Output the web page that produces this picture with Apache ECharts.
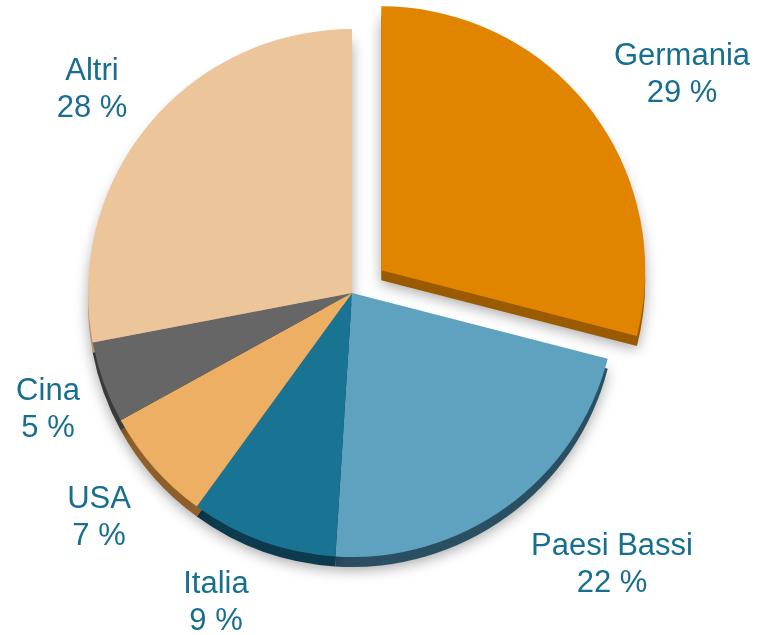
<!DOCTYPE html>
<html>
<head>
<meta charset="utf-8">
<script src="https://cdn.jsdelivr.net/npm/echarts@6/dist/echarts.min.js"></script>
<style>
html,body{margin:0;padding:0;background:#fff;}
#chart{width:760px;height:635px;}
</style>
</head>
<body>
<div id="chart"></div>
<script>
// ---- data ----
const categories = ['Germania', 'Paesi Bassi', 'Italia', 'USA', 'Cina', 'Altri'];
const shares = [29, 22, 9, 7, 5, 28];
const explodedCategory = 'Germania';

// ---- styles (separate from data) ----
const topColors = ['#E18500', '#5EA2BF', '#197493', '#EDAF64', '#666666', '#EDC59B'];
const sideColors = ['#995A00', '#2A4F63', '#0D3A4C', '#8E5F2A', '#3A3A3A', '#B8936B'];
const labelAnchors = [[682, 75], [612, 565], [216, 603], [99, 518], [48, 410], [92, 90]];

const CX = 352, CY = 293, R = 264, DEPTH = 10, OFFSET = 37;

// direction in which the highlighted slice is pulled out (its mid angle, clockwise from 12 o'clock)
const explodedIndex = categories.indexOf(explodedCategory);
const total = shares.reduce((s, v) => s + v, 0);
const before = shares.slice(0, explodedIndex).reduce((s, v) => s + v, 0);
const midAngle = (before + shares[explodedIndex] / 2) / total * 2 * Math.PI;
const EX = OFFSET * Math.sin(midAngle), EY = -OFFSET * Math.cos(midAngle);

const chart = echarts.init(document.getElementById('chart'), null, {renderer: 'canvas'});

// onlyExploded: true -> only the pulled-out slice visible; false -> all but it
function buildData(colors, onlyExploded) {
  return categories.map((name, i) => {
    const visible = (i === explodedIndex) === onlyExploded;
    return {
      name: name,
      value: shares[i],
      itemStyle: visible ? {color: colors[i]} : {color: 'rgba(0,0,0,0)', shadowBlur: 0, shadowColor: 'rgba(0,0,0,0)'},
      label: {show: visible}
    };
  });
}

function pieLayer(colors, onlyExploded, isSide) {
  const ox = onlyExploded ? EX : 0, oy = onlyExploded ? EY : 0;
  const s = {
    type: 'pie',
    silent: true,
    center: [CX + ox, CY + oy + (isSide ? DEPTH : 0)],
    radius: R,
    startAngle: 90,
    clockwise: true,
    avoidLabelOverlap: false,
    emphasis: {disabled: true},
    labelLine: {show: false},
    data: buildData(colors, onlyExploded)
  };
  if (isSide) {
    s.label = {show: false};
    s.data.forEach(d => { d.label = {show: false}; });
    s.itemStyle = {borderWidth: 0, shadowBlur: 14, shadowColor: 'rgba(0,0,0,0.35)', shadowOffsetY: 3};
  } else {
    s.itemStyle = {borderWidth: 0};
    s.label = {
      show: true,
      position: 'outside',
      formatter: '{b}\n{c} %',
      color: '#176E8E',
      fontFamily: 'Liberation Sans, Arial, sans-serif',
      fontSize: 31,
      lineHeight: 37
    };
    s.labelLayout = function (params) {
      const a = labelAnchors[params.dataIndex];
      return {x: a[0], y: a[1], align: 'center', verticalAlign: 'middle'};
    };
  }
  return s;
}

chart.setOption({
  animation: false,
  backgroundColor: '#ffffff',
  series: [
    pieLayer(sideColors, false, true),
    pieLayer(sideColors, true, true),
    pieLayer(topColors, false, false),
    pieLayer(topColors, true, false)
  ]
});
</script>
</body>
</html>
